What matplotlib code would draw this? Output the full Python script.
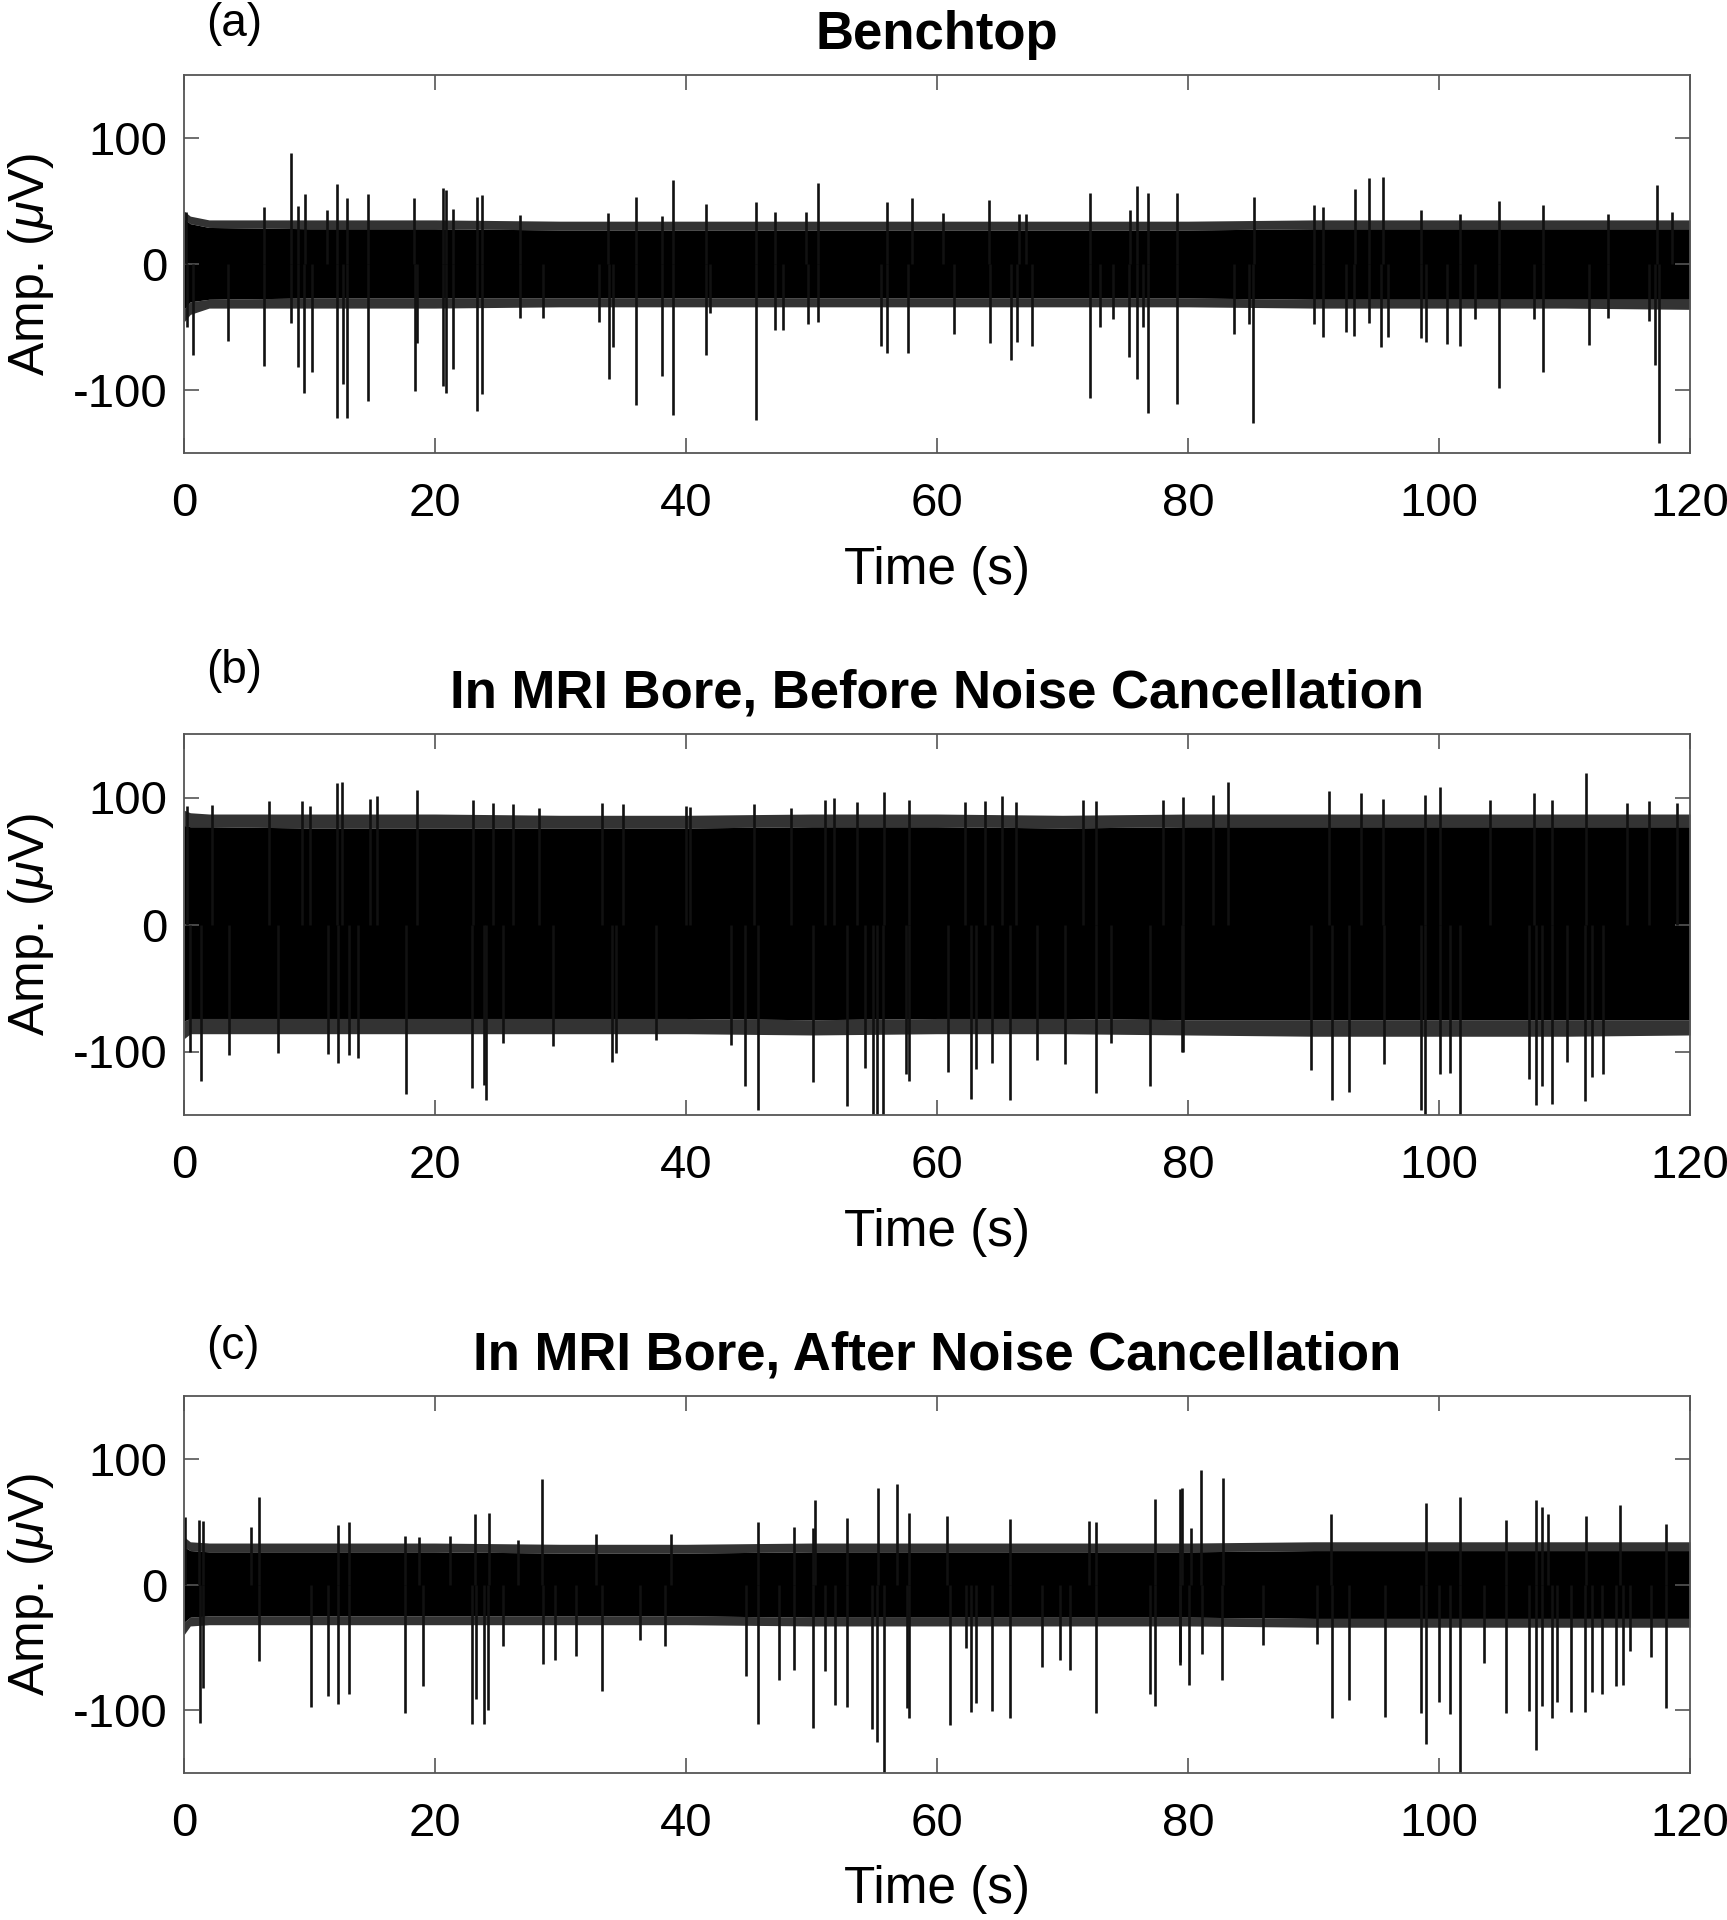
import numpy as np
import matplotlib
matplotlib.use("Agg")
import matplotlib.pyplot as plt

plt.rcParams['font.family'] = ['Liberation Sans', 'DejaVu Sans']
plt.rcParams['mathtext.fontset'] = 'custom'
plt.rcParams['mathtext.rm'] = 'Liberation Sans'
plt.rcParams['mathtext.it'] = 'Liberation Sans:italic'

# ---- envelope of the dense noise band ----
band_t = [0, 0.5, 2, 10, 20, 30, 40, 50, 60, 70, 80, 90, 100, 110, 120]

a_hi = [36, 32, 29, 28, 28, 27, 27, 27, 27, 27, 27, 28, 28, 28, 28]
a_lo = [-36, -30, -28, -27, -27, -27, -27, -27, -27, -27, -27, -28, -28, -28, -28]
a_fuzz_hi = [42, 38, 35, 35, 35, 34, 34, 34, 34, 34, 34, 35, 35, 35, 35]
a_fuzz_lo = [-46, -40, -35, -35, -35, -34, -34, -34, -34, -34, -34, -35, -35, -35, -36]

b_hi = [78, 77, 77, 76, 76, 76, 76, 77, 77, 76, 77, 77, 77, 77, 77]
b_lo = [-76, -74, -74, -74, -74, -74, -74, -75, -74, -74, -75, -75, -75, -75, -75]
b_fuzz_hi = [90, 88, 87, 87, 87, 86, 86, 87, 87, 86, 87, 87, 87, 87, 87]
b_fuzz_lo = [-90, -86, -86, -86, -86, -86, -86, -87, -86, -86, -87, -88, -88, -88, -87]

c_hi = [30, 27, 26, 26, 26, 25, 25, 26, 26, 26, 26, 27, 27, 27, 27]
c_lo = [-30, -26, -25, -25, -25, -25, -25, -26, -26, -26, -26, -27, -27, -27, -27]
c_fuzz_hi = [38, 34, 33, 33, 33, 32, 32, 33, 33, 33, 33, 34, 34, 34, 34]
c_fuzz_lo = [-40, -33, -32, -32, -32, -32, -32, -33, -33, -33, -33, -34, -34, -34, -34]

# ---- individual spikes: time (s), peak amplitude (uV) ----
a_spike_t = [0.16, 6.37, 8.53, 9.11, 9.64, 11.37, 12.22, 12.96, 14.69, 18.35, 20.6, 20.85,
             21.46, 23.32, 23.72, 26.8, 33.8, 36.0, 38.1, 39.0,
             41.6, 45.6, 47.1, 49.6, 50.5, 56.0, 58.0, 60.5, 64.17, 66.5, 67.1, 72.19,
             75.4, 75.9, 76.8, 79.1,
             85.26, 90.07, 90.78, 93.3, 94.4, 95.5, 98.6, 101.7, 104.8, 108.3, 113.5,
             117.4, 118.6,
             0.21, 0.74, 3.48, 6.37, 8.5, 9.11, 9.59, 10.17, 12.22, 12.7, 12.96, 14.69,
             18.43, 18.59, 20.67, 20.88, 21.46, 23.32, 23.72, 26.8, 28.6, 33.1, 33.86,
             34.16, 36.0, 38.1, 38.94,
             41.6, 41.9, 45.6, 47.1, 47.76, 49.7, 50.55, 55.5, 56.0, 57.7, 61.36, 64.2,
             65.87, 66.4, 67.6, 72.19, 73.0, 74.0, 75.3, 75.9, 76.4, 76.8, 79.1,
             83.7, 84.9, 85.2, 90.07, 90.78, 92.6, 93.2, 94.4, 95.4, 95.9, 98.6, 99.0,
             100.6, 101.7, 102.9, 104.8, 107.6, 108.3, 111.98, 113.5, 116.76, 117.2, 117.5]
a_spike_v = [41, 45.5, 87.8, 46, 55.6, 43, 63.5, 52.6, 55.6, 52.4, 60, 58.7,
             44, 53, 55, 39, 40.7, 53, 38, 66.7,
             47.4, 49, 41, 41, 64, 49.5, 52, 40.7, 51, 39.7, 39.7, 56,
             43, 62, 56, 56,
             53, 47, 45, 59.5, 68, 69, 43, 40, 50, 47, 40,
             63, 41.5,
             -50, -72, -61, -81, -47, -81.5, -102, -86, -122, -95, -122, -109,
             -101, -63, -97, -102, -83, -117, -103, -43, -43, -46, -91,
             -66, -112, -89, -120,
             -72, -39, -124, -52, -52, -48, -46, -65, -71, -71, -55.6, -63,
             -76, -62, -65, -106, -50, -44, -74, -91, -50, -118, -111,
             -55.6, -48, -126, -48, -58, -54, -57, -46.5, -66, -58, -59, -62,
             -63.5, -65, -44, -98.7, -44, -86, -64, -43, -45, -80, -142]

b_spike_t = [0.27, 2.26, 6.8, 9.4, 10.0, 12.22, 12.6, 14.8, 15.4, 18.6, 23.0, 24.6, 26.2,
             28.3, 33.3, 35.0, 40.0, 40.3, 45.4, 48.4, 51.1, 51.8, 53.6, 55.8, 57.8,
             62.2, 63.8, 65.2, 66.3, 71.6, 72.7, 78.0, 79.6, 82.0, 83.2, 91.2, 93.8,
             95.5, 98.9, 100.1, 104.1, 107.6, 109.0, 111.7, 115.0, 116.7, 119.0,
             0.48, 1.33, 3.6, 7.5, 11.45, 12.25, 13.17, 13.9, 17.66, 22.95, 23.9, 24.1,
             25.4, 29.4, 34.1, 34.4, 37.6,
             43.6, 44.7, 45.7, 50.1, 52.8, 54.3, 54.9, 55.2, 55.7, 57.5, 57.8, 60.9,
             62.7, 63.1, 64.4, 65.8, 68.0, 70.2, 72.7, 73.9, 77.0, 79.5,
             79.6, 89.8, 91.45, 92.8, 95.6, 98.6, 98.9, 100.1, 100.9, 101.7, 107.2,
             107.7, 108.2, 109.0, 110.2, 111.6, 112.2, 113.1]
b_spike_v = [93, 94, 97, 97, 93, 111.6, 112, 99, 101, 106, 98, 96, 95,
             92, 96, 95, 93, 92.7, 94.5, 92, 98, 99.7, 96.6, 104.5, 98,
             96.6, 97.3, 101, 96.6, 98, 97, 98, 100.5, 101.8, 112, 105, 103.6,
             99, 102, 108, 98, 103.6, 98, 119, 95.8, 97, 95.8,
             -100, -123, -102.6, -101, -102, -109, -103, -105, -133.6, -129, -126, -138,
             -93.5, -95.5, -108, -101, -91,
             -95, -127, -146, -124, -143, -113, -150, -150, -150, -118, -123, -116,
             -137.5, -114, -109, -138, -106.5, -110, -133, -93.5, -127.5, -100,
             -100, -114.5, -138, -132, -110, -146, -150, -118, -117, -150, -122,
             -142, -127.5, -141, -108, -139, -120, -118]

c_spike_t = [0.08, 1.22, 1.54, 5.34, 5.98, 12.24, 13.17, 17.6, 18.7, 21.2, 23.2, 24.3,
             26.6, 28.5, 32.8, 38.8,
             45.7, 48.6, 50.1, 50.3, 52.8, 55.3, 56.8, 57.8, 60.8, 65.8, 72.1, 72.7,
             77.4, 79.4,
             79.5, 80.2, 81.0, 82.8, 91.4, 99.0, 101.7, 105.3, 107.7, 108.2, 108.7,
             111.7, 114.4, 118.1,
             1.27, 1.49, 5.98, 10.1, 11.45, 12.24, 13.17, 17.6, 19.07, 22.97, 23.24,
             23.9, 24.25, 25.4, 28.6, 29.56, 31.2, 33.3, 36.3, 38.3,
             44.75, 45.7, 47.4, 48.6, 50.1, 51.1, 51.9, 52.8, 54.8, 55.2, 55.8, 57.6,
             57.8, 61.0, 62.3, 62.7, 63.1, 64.4, 65.8, 68.4, 69.8, 70.6, 72.7, 77.0,
             77.4, 79.4, 80.1,
             79.4, 81.1, 82.7, 86.0, 90.3, 91.5, 92.8, 95.7, 98.6, 99.0, 100.0, 100.9,
             101.7, 103.6, 105.3, 107.2, 107.7, 108.2, 109.0, 109.4, 110.5, 111.6,
             112.2, 113.0, 114.1, 114.7, 115.2, 116.9, 118.1]
c_spike_v = [54, 51.5, 50.7, 45.4, 69.4, 47.5, 49.4, 38.8, 37.5, 38.8, 56, 56.7,
             35.6, 83.8, 40, 40.4,
             50, 46, 45, 67.4, 52.7, 77, 80, 57, 54.4, 52, 50.6, 49.5,
             68, 76,
             76.6, 45, 91.3, 85, 56.3, 64.8, 69.5, 51.5, 67, 62, 56.3,
             54.7, 63, 48,
             -110.6, -82, -61, -97.4, -89, -94.7, -87.3, -102, -80.4, -111, -91.5,
             -111, -99.5, -48.6, -63, -59.7, -56.6, -85, -44, -48.6,
             -73, -111.4, -75.6, -67.7, -114, -69, -95.5, -97.4, -115, -125, -150, -98,
             -106, -112, -50.6, -101.6, -94, -100.8, -106, -66, -59.7, -68, -102, -87,
             -97, -63.7, -80,
             -62, -55, -75.6, -48, -47.6, -106, -92.3, -105.6, -102, -127.3, -93.6,
             -103.4, -150, -62.4, -102, -100.8, -132, -96.8, -106, -93.6, -101.6,
             -101.6, -85.7, -87, -80.4, -79.6, -52.9, -57.7, -98]

titles = ["Benchtop", "In MRI Bore, Before Noise Cancellation",
          "In MRI Bore, After Noise Cancellation"]
tags = ["(a)", "(b)", "(c)"]

panels = [
    (a_hi, a_lo, a_fuzz_hi, a_fuzz_lo, a_spike_t, a_spike_v),
    (b_hi, b_lo, b_fuzz_hi, b_fuzz_lo, b_spike_t, b_spike_v),
    (c_hi, c_lo, c_fuzz_hi, c_fuzz_lo, c_spike_t, c_spike_v),
]

fig = plt.figure(figsize=(17.27, 19.2), dpi=100)
W, H = 1727.0, 1920.0
# (top, bottom) pixel rows of each axes box, and the row of each panel tag
boxes = [(75, 453), (734, 1115), (1396, 1773)]
tag_rows = [24, 671, 1347]
left, right = 184, 1690

for i in range(3):
    hi, lo, fhi, flo, st, sv = panels[i]
    top, bot = boxes[i]
    ax = fig.add_axes([left / W, 1 - bot / H, (right - left) / W, (bot - top) / H])

    ax.fill_between(band_t, hi, fhi, color='black', alpha=0.8, lw=0)
    ax.fill_between(band_t, flo, lo, color='black', alpha=0.8, lw=0)
    ax.fill_between(band_t, lo, hi, color='black', lw=0)
    ax.vlines(st, 0, sv, color='#111111', lw=1.9)

    ax.set_xlim(0, 120)
    ax.set_ylim(-150, 150)
    ax.set_xticks(np.arange(0, 121, 20))
    ax.set_yticks([-100, 0, 100])
    ax.set_yticklabels(['-100', '0', '100'])
    ax.tick_params(direction='in', length=11, width=1.2, color='#555555',
                   labelsize=34, top=True, right=True)
    ax.tick_params(axis='x', pad=21)
    ax.tick_params(axis='y', pad=12)
    for s in ax.spines.values():
        s.set_color('#555555')
        s.set_linewidth(1.3)
    ax.set_xlabel("Time (s)", fontsize=37)
    ax.set_ylabel(r"Amp. ($\mu$V)", fontsize=36)
    ax.xaxis.set_label_coords(0.5, -0.245)
    ax.yaxis.set_label_coords(-0.085, 0.5)
    ax.set_title(titles[i], fontsize=38, fontweight='bold', pad=19)
    fig.text(206 / W, 1 - tag_rows[i] / H, tags[i], fontsize=33, va='center', ha='left')

fig.savefig("out.png", dpi=100)
